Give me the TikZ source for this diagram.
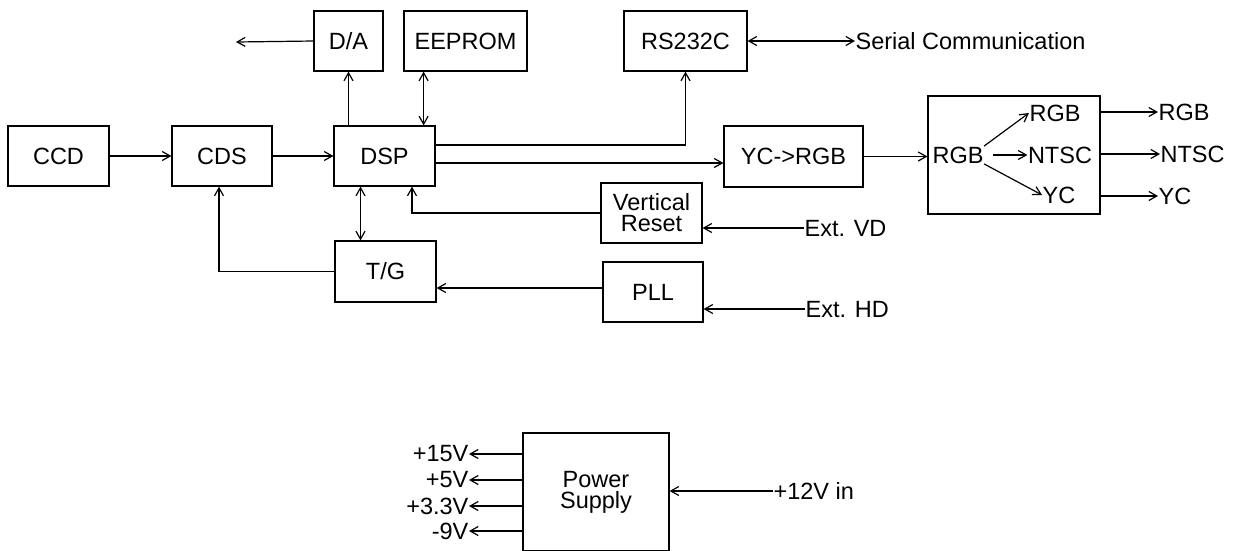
\documentclass[tikz,border=0pt]{standalone}
\usepackage{fontspec}
\setmainfont{Liberation Sans}
\usetikzlibrary{arrows.meta}

\begin{document}
\begin{tikzpicture}[x=1pt, y=-1pt, line width=1.2pt,
  >={Straight Barb[length=8pt,width=9pt]},
  font=\fontsize{23.5}{21}\selectfont,
  blk/.style={draw, minimum height=60pt, inner sep=0pt, align=center},
  lbl/.style={inner sep=0pt}]
  \clip (0,0) rectangle (1241,550);
  % Blocks
  \node[blk, minimum width=101pt] (ccd) at (58.5,156) {CCD};
  \node[blk, minimum width=100pt] (cds) at (222,156) {CDS};
  \node[blk, minimum width=101pt] (dsp) at (384.5,156) {DSP};
  \node[blk, minimum width=69pt] (da) at (348.5,41) {D/A};
  \node[blk, minimum width=123pt] (eeprom) at (465.5,41) {EEPROM};
  \node[blk, minimum width=123pt] (rs) at (685.5,41) {RS232C};
  \node[blk, minimum width=139pt, minimum height=61pt] (ycrgb) at (793.5,156.5) {YC->RGB};
  \node[blk, minimum width=101pt] (vr) at (651.5,213) {Vertical\\Reset};
  \node[blk, minimum width=101pt, minimum height=61pt] (tg) at (385.5,271.5) {T/G};
  \node[blk, minimum width=100pt] (pll) at (653,292) {PLL};
  \node[blk, minimum width=172pt, minimum height=118pt] (enc) at (1014,155) {};
  \node[blk, minimum width=146pt, minimum height=118pt] (psu) at (596,492) {Power\\Supply};
  % Labels
  \node[lbl, anchor=west] (serial) at (855,41) {Serial Communication};
  \node[lbl, anchor=west] (extvd) at (804,228) {Ext. VD};
  \node[lbl, anchor=west] (exthd) at (805,309) {Ext. HD};
  \node[lbl] (rgbin) at (958,155) {RGB};
  \node[lbl] (rgbA) at (1055,113) {RGB};
  \node[lbl] (ntscA) at (1060,155) {NTSC};
  \node[lbl] (ycA) at (1059,195) {YC};
  \node[lbl, anchor=west] (rgbX) at (1158,112) {RGB};
  \node[lbl, anchor=west] (ntscX) at (1160,154) {NTSC};
  \node[lbl, anchor=west] (ycX) at (1158,196) {YC};
  \node[lbl, anchor=east] (v15) at (469,454) {+15V};
  \node[lbl, anchor=east] (v5) at (469,480) {+5V};
  \node[lbl, anchor=east] (v33) at (469,506) {+3.3V};
  \node[lbl, anchor=east] (v9) at (469,531) {-9V};
  \node[lbl, anchor=west] (vin) at (773,491) {+12V in};
  \coordinate (daout) at (236,42);
  % Signal path
  \draw[->] (ccd) -- (cds);
  \draw[->] (cds) -- (dsp);
  \draw[->] (da.south |- dsp.north) -- (da.south);
  \draw[->] (da.west) -- (daout);
  \draw[<->] ([xshift=-12pt]dsp.north east) -- ([xshift=-12pt]dsp.north east |- eeprom.south);
  \draw[->] ([yshift=11pt]dsp.east) -| (rs.south);
  \draw[<->] (rs.east) -- (serial.west);
  \draw[->] ([yshift=-7pt]dsp.east) -- ([yshift=-7pt]dsp.east -| ycrgb.west);
  \draw[->] (ycrgb.east) -- (ycrgb.east -| enc.west);
  % Inside the encoder
  \draw[->] (rgbin.north east) -- (rgbA.west);
  \draw[->] ([xshift=9pt]rgbin.east) -- (ntscA.west);
  \draw[->] (rgbin.south east) -- (ycA.west);
  \foreach \o in {rgbX,ntscX,ycX}
    \draw[->] (\o.west -| enc.east) -- (\o.west);
  % Timing
  \draw[<->] ([xshift=-25pt]tg.north) -- ([xshift=-25pt]tg.north |- dsp.south);
  \draw[->] (vr.west) -| ([xshift=27.5pt]dsp.south);
  \draw[->] (tg.west) -| ([xshift=-3pt]cds.south);
  \draw[->] ([yshift=4pt]pll.west) -- ([yshift=4pt]pll.west -| tg.east);
  \draw[->] (extvd.west) -- (extvd.west -| vr.east);
  \draw[->] (exthd.west) -- (exthd.west -| pll.east);
  % Power
  \draw[->] (vin.west) -- (vin.west -| psu.east);
  \foreach \v in {v15,v5,v33,v9}
    \draw[->] (psu.west |- \v.east) -- (\v.east);
\end{tikzpicture}
\end{document}
